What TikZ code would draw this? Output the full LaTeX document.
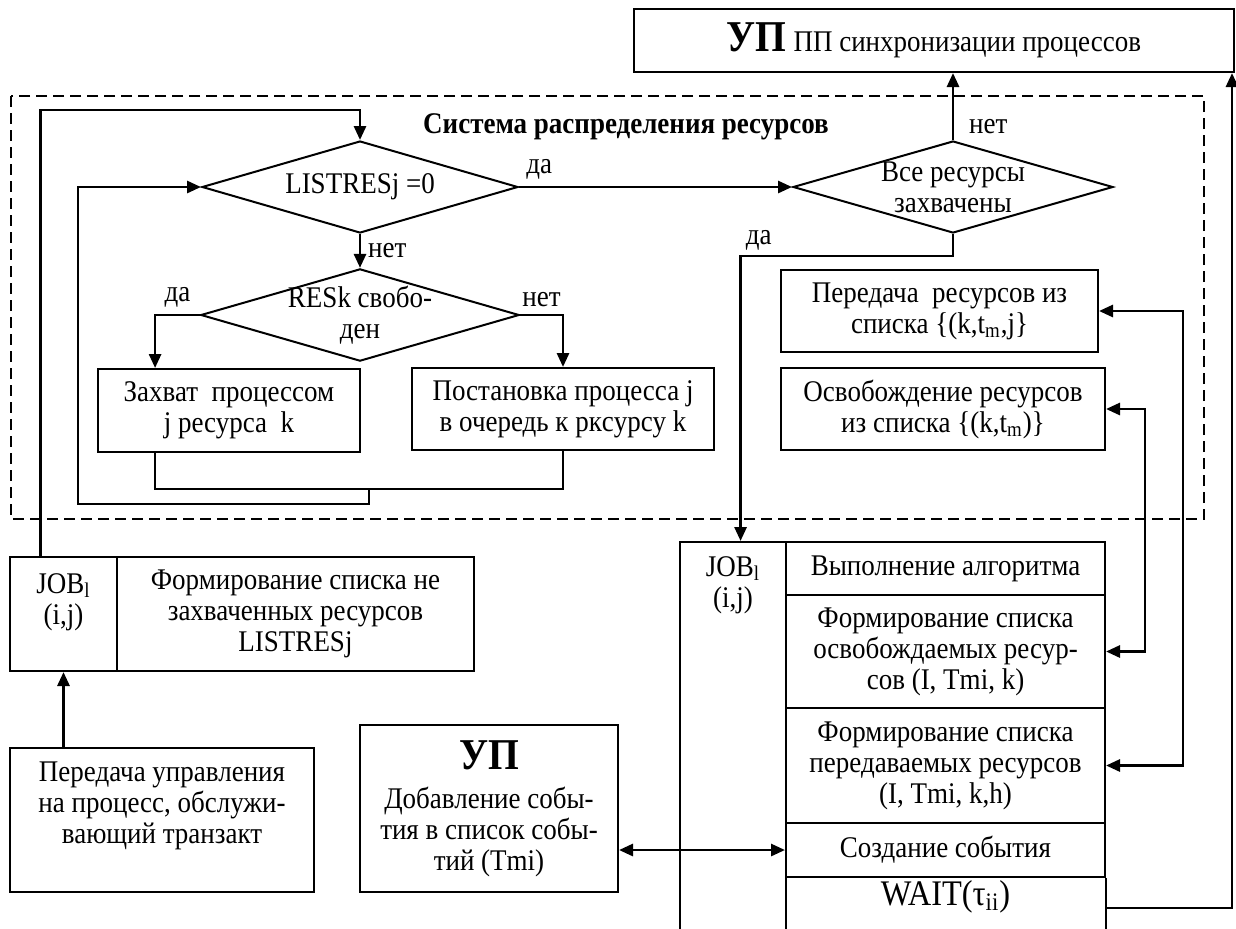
\documentclass[tikz,border=0pt]{standalone}
\usepackage{fontspec}
\setmainfont[FakeStretch=0.9]{Liberation Serif}
\usetikzlibrary{arrows.meta, calc, positioning, shapes.geometric}

\tikzset{
  box/.style={draw, line width=1pt, align=center, inner sep=0pt},
  dia/.style={draw, diamond, aspect=3.45, line width=1pt, align=center, inner sep=-1.5pt},
  arr/.style={line width=1.4pt, -{Triangle[length=7pt,width=6pt]}},
  darr/.style={line width=1.4pt, {Triangle[length=7pt,width=6pt]}-{Triangle[length=7pt,width=6pt]}},
  link/.style={line width=1pt},
}

\begin{document}
\begin{tikzpicture}[x=0.5pt, y=-0.5pt, every node/.style={font=\fontsize{15}{15.5}\selectfont, align=center}]
\useasboundingbox (0,0) rectangle (1236,928);
\clip (0,0) rectangle (1236,928);

% Top box
\node[box, minimum width=300pt, minimum height=31.5pt] (sync) at (934,40.5)
  {{\fontsize{22}{22}\selectfont\bfseries УП} ПП синхронизации процессов};

% Resource allocation system
\draw[line width=1.4pt, dash pattern=on 5.5pt off 3pt] (11,96) rectangle (1204,519);
\node[font=\fontsize{15}{15.5}\selectfont\bfseries] (title) at (626,127) {Система распределения ресурсов};

\node[dia, minimum width=158pt, minimum height=46pt] (d1) at (360,187) {LISTRESj =0};
\node[dia, minimum width=160pt, minimum height=46pt] (d2) at (953,187) {Все ресурсы\\захвачены};
\node[dia, minimum width=158pt, minimum height=45pt] (d3) at (360,315) {RESk свобо-\\ден};
\node[box, minimum width=131pt, minimum height=41.5pt] (grab) at (229,410.5) {Захват\ \ процессом\\j ресурса\ \ k};
\node[box, minimum width=151pt, minimum height=41pt] (queue) at (563,409) {Постановка процесса j\\в очередь к ркcурсу k};
\node[box, minimum width=158.5pt, minimum height=41pt] (pass) at (939.5,311)
  {Передача\ \ ресурсов из\\списка \{(k,t\textsubscript{m},j\}};
\node[box, minimum width=162pt, minimum height=41pt] (free) at (943,409)
  {Освобождение ресурсов\\из списка \{(k,t\textsubscript{m})\}};

% Left job
\node[box, minimum width=53.5pt, minimum height=57pt] (joba) at (63.5,614) {};
\node (jobatxt) at (63.5,602) {JOB\textsubscript{l}\\(i,j)};
\node[box, minimum width=178.5pt, minimum height=57pt] (jobb) at (295.5,614)
  {Формирование списка не\\захваченных ресурсов\\LISTRESj};
\node[box, minimum width=152pt, minimum height=72pt] (ctrl) at (162,820) {};
\node (ctrltxt) at (162,806) {Передача управления\\на процесс, обслужи-\\вающий транзакт};
\node[box, minimum width=129pt, minimum height=83.5pt] (upev) at (489,808.5)
  {{\fontsize{22}{22}\selectfont\bfseries УП}\\[4pt]Добавление собы-\\тия в список собы-\\тий (Tmi)};

% Right job
\node[box, minimum width=53pt, minimum height=199pt] (jobc) at (733,741) {};
\node (jobctxt) at (733,585) {JOB\textsubscript{l}\\(i,j)};
\node[box, minimum width=159.5pt, minimum height=26.5pt] (r1) at (945.5,568.5) {Выполнение алгоритма};
\node[box, minimum width=159.5pt, minimum height=56.5pt] (r2) at (945.5,651.5)
  {Формирование списка\\освобождаемых ресур-\\сов (I, Tmi, k)};
\node[box, minimum width=159.5pt, minimum height=57.5pt] (r3) at (945.5,765.5)
  {Формирование списка\\передаваемых ресурсов\\(I, Tmi, k,h)};
\node[box, minimum width=159.5pt, minimum height=27pt] (r4) at (945.5,850) {Создание события};
\node[font=\fontsize{18}{18}\selectfont] (wait) at (945.5,897) {WAIT(τ\textsubscript{ii})};
\draw[link] (r4.south east) -- ++(0,70);

% Connections
\draw[arr] ($(joba.north west)!0.29!(joba.north east)$) |- ($(d1.north)+(0,-30)$) -- (d1.north);
\draw[arr] (d1.east) -- node[pos=0, above right, inner sep=3pt] (yes1) {да} (d2.west);
\draw[arr] (d2.north) -- node[pos=0.2, right, xshift=4pt] (no1) {нет} (d2.north |- sync.south);
\draw[arr] (d2.south) -- ++(0,22) -| node[pos=0.5, above right, inner sep=2pt] (yes2) {да}
  ($(jobc.north west)!0.57!(jobc.north east)$);
\draw[arr] (d1.south) -- node[right] (no2) {нет} (d3.north);
\draw[arr] (d3.west) -| node[pos=0.25, above] (yes3) {да} ($(grab.north west)!0.22!(grab.north east)$);
\draw[arr] (d3.east) -| node[pos=0.25, above] (no3) {нет} (queue.north);

% Return loops
\draw[link] ($(grab.south west)!0.22!(grab.south east)$) -- ++(0,36) -| (queue.south);
\coordinate (merge) at ($(grab.south east)+(8,36)$);
\draw[link] (merge) -- ++(0,15) -| ($(d1.west)+(-123,40)$);
\draw[arr] ($(d1.west)+(-123,40)$) |- (d1.west);

\draw[arr] (ctrl.north -| joba.south) -- (joba.south);
\draw[darr] (upev.east |- r4.west) -- (r4.west);
\draw[arr] ($(r4.south east)+(0,30)$) -| ([xshift=-1.5pt]sync.south east);
\draw[darr] (pass.east) -- ++(84,0) |- (r3.east);
\draw[darr] (free.east) -- ++(39,0) |- (r2.east);

\end{tikzpicture}
\end{document}
